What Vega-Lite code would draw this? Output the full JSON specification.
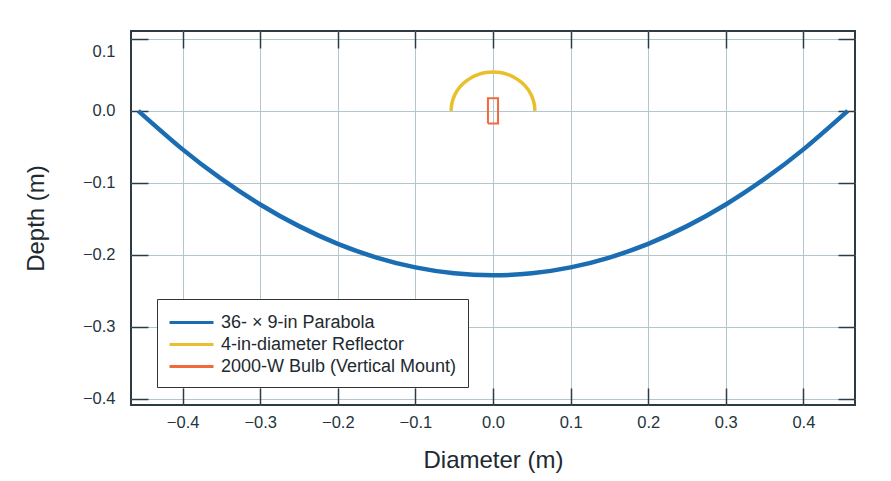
{
  "$schema": "https://vega.github.io/schema/vega-lite/v6.json",
  "width": 724,
  "height": 374,
  "autosize": "none",
  "padding": {"left": 131, "top": 31, "right": 36, "bottom": 76},
  "background": "#ffffff",
  "config": {
    "font": "Liberation Sans",
    "view": {"stroke": "#2d3c44", "strokeWidth": 2}
  },
  "datasets": {
    "parabola": [
      {"s": "36- × 9-in Parabola", "i": 0, "x": -0.4572, "y": 0},
      {"s": "36- × 9-in Parabola", "i": 1, "x": -0.4, "y": -0.0536},
      {"s": "36- × 9-in Parabola", "i": 2, "x": -0.35, "y": -0.0946},
      {"s": "36- × 9-in Parabola", "i": 3, "x": -0.3, "y": -0.1302},
      {"s": "36- × 9-in Parabola", "i": 4, "x": -0.25, "y": -0.1603},
      {"s": "36- × 9-in Parabola", "i": 5, "x": -0.2, "y": -0.1849},
      {"s": "36- × 9-in Parabola", "i": 6, "x": -0.15, "y": -0.204},
      {"s": "36- × 9-in Parabola", "i": 7, "x": -0.1, "y": -0.2177},
      {"s": "36- × 9-in Parabola", "i": 8, "x": -0.05, "y": -0.2259},
      {"s": "36- × 9-in Parabola", "i": 9, "x": 0, "y": -0.2286},
      {"s": "36- × 9-in Parabola", "i": 10, "x": 0.05, "y": -0.2259},
      {"s": "36- × 9-in Parabola", "i": 11, "x": 0.1, "y": -0.2177},
      {"s": "36- × 9-in Parabola", "i": 12, "x": 0.15, "y": -0.204},
      {"s": "36- × 9-in Parabola", "i": 13, "x": 0.2, "y": -0.1849},
      {"s": "36- × 9-in Parabola", "i": 14, "x": 0.25, "y": -0.1603},
      {"s": "36- × 9-in Parabola", "i": 15, "x": 0.3, "y": -0.1302},
      {"s": "36- × 9-in Parabola", "i": 16, "x": 0.35, "y": -0.0946},
      {"s": "36- × 9-in Parabola", "i": 17, "x": 0.4, "y": -0.0536},
      {"s": "36- × 9-in Parabola", "i": 18, "x": 0.4572, "y": 0}
    ],
    "reflector": [
      {"s": "4-in-diameter Reflector", "i": 0, "x": -0.054, "y": 0},
      {"s": "4-in-diameter Reflector", "i": 1, "x": -0.05318, "y": 0.00938},
      {"s": "4-in-diameter Reflector", "i": 2, "x": -0.05074, "y": 0.01847},
      {"s": "4-in-diameter Reflector", "i": 3, "x": -0.04677, "y": 0.027},
      {"s": "4-in-diameter Reflector", "i": 4, "x": -0.04137, "y": 0.03471},
      {"s": "4-in-diameter Reflector", "i": 5, "x": -0.03471, "y": 0.04137},
      {"s": "4-in-diameter Reflector", "i": 6, "x": -0.027, "y": 0.04677},
      {"s": "4-in-diameter Reflector", "i": 7, "x": -0.01847, "y": 0.05074},
      {"s": "4-in-diameter Reflector", "i": 8, "x": -0.00938, "y": 0.05318},
      {"s": "4-in-diameter Reflector", "i": 9, "x": 0, "y": 0.054},
      {"s": "4-in-diameter Reflector", "i": 10, "x": 0.00938, "y": 0.05318},
      {"s": "4-in-diameter Reflector", "i": 11, "x": 0.01847, "y": 0.05074},
      {"s": "4-in-diameter Reflector", "i": 12, "x": 0.027, "y": 0.04677},
      {"s": "4-in-diameter Reflector", "i": 13, "x": 0.03471, "y": 0.04137},
      {"s": "4-in-diameter Reflector", "i": 14, "x": 0.04137, "y": 0.03471},
      {"s": "4-in-diameter Reflector", "i": 15, "x": 0.04677, "y": 0.027},
      {"s": "4-in-diameter Reflector", "i": 16, "x": 0.05074, "y": 0.01847},
      {"s": "4-in-diameter Reflector", "i": 17, "x": 0.05318, "y": 0.00938},
      {"s": "4-in-diameter Reflector", "i": 18, "x": 0.054, "y": 0}
    ],
    "bulb": [
      {"s": "2000-W Bulb (Vertical Mount)", "i": 0, "x": -0.0065, "y": -0.0175},
      {"s": "2000-W Bulb (Vertical Mount)", "i": 1, "x": 0.0065, "y": -0.0175},
      {"s": "2000-W Bulb (Vertical Mount)", "i": 2, "x": 0.0065, "y": 0.0175},
      {"s": "2000-W Bulb (Vertical Mount)", "i": 3, "x": -0.0065, "y": 0.0175},
      {"s": "2000-W Bulb (Vertical Mount)", "i": 4, "x": -0.0065, "y": -0.0175}
    ]
  },
  "layer": [
    {
      "data": {"name": "parabola"},
      "mark": {"type": "line", "strokeCap": "butt", "strokeJoin": "round", "interpolate": "natural", "strokeWidth": 4.5},
      "encoding": {
        "x": {
          "field": "x", "type": "quantitative",
          "scale": {"domain": [-0.4665, 0.4665], "nice": false, "zero": false},
          "axis": {
            "orient": "bottom", "title": "Diameter (m)", "values": [-0.4, -0.3, -0.2, -0.1, 0, 0.1, 0.2, 0.3, 0.4],
            "format": ".1f", "domain": false, "grid": true, "gridColor": "#b3c6cf", "gridWidth": 1,
            "ticks": true, "tickSize": -17, "tickColor": "#2d3c44", "tickWidth": 1.5,
            "labelFontSize": 16.5, "labelColor": "#25343c", "labelPadding": 26,
            "titleFontSize": 24, "titleFontWeight": "normal", "titleColor": "#1e2a30", "titlePadding": 18
          }
        },
        "y": {
          "field": "y", "type": "quantitative",
          "scale": {"domain": [-0.409, 0.111], "nice": false, "zero": false},
          "axis": {
            "orient": "left", "title": "Depth (m)", "values": [-0.4, -0.3, -0.2, -0.1, 0, 0.1],
            "format": ".1f", "domain": false, "grid": true, "gridColor": "#b3c6cf", "gridWidth": 1,
            "ticks": true, "tickSize": -17, "tickColor": "#2d3c44", "tickWidth": 1.5,
            "labelFontSize": 16.5, "labelColor": "#25343c", "labelPadding": 33,
            "labelOffset": {"condition": {"test": "datum.value > 0.05", "value": 13}, "value": 0},
            "titleFontSize": 24, "titleFontWeight": "normal", "titleColor": "#1e2a30", "titlePadding": 34
          }
        },
        "order": {"field": "i", "type": "quantitative"},
        "color": {
          "field": "s", "type": "nominal",
          "scale": {
            "domain": ["36- × 9-in Parabola", "4-in-diameter Reflector", "2000-W Bulb (Vertical Mount)"],
            "range": ["#1a6db2", "#e9bf2c", "#f06a3c"]
          },
          "legend": {
            "title": null, "orient": "none", "legendX": 26, "legendY": 268,
            "fillColor": "#ffffff", "strokeColor": "#333333", "padding": 11,
            "symbolType": "M-1,0H3", "symbolSize": 484, "symbolStrokeWidth": 3,
            "labelFontSize": 18, "labelColor": "#1e2a30", "labelLimit": 500, "labelOffset": 28, "rowPadding": 0
          }
        }
      }
    },
    {
      "data": {"name": "bulb"},
      "mark": {"type": "line", "opacity": 0},
      "encoding": {
        "x": {
          "field": "x", "type": "quantitative",
          "axis": {
            "orient": "top", "title": null, "values": [-0.4, -0.3, -0.2, -0.1, 0, 0.1, 0.2, 0.3, 0.4],
            "labels": false, "domain": false, "grid": false,
            "tickSize": -17, "tickColor": "#2d3c44", "tickWidth": 1.5
          }
        },
        "y": {
          "field": "y", "type": "quantitative",
          "axis": {
            "orient": "right", "title": null, "values": [-0.4, -0.3, -0.2, -0.1, 0, 0.1],
            "labels": false, "domain": false, "grid": false,
            "tickSize": -17, "tickColor": "#2d3c44", "tickWidth": 1.5
          }
        },
        "order": {"field": "i", "type": "quantitative"}
      }
    },
    {
      "data": {"name": "reflector"},
      "mark": {"type": "line", "strokeCap": "butt", "interpolate": "cardinal", "strokeWidth": 3.5},
      "encoding": {
        "x": {"field": "x", "type": "quantitative", "axis": null},
        "y": {"field": "y", "type": "quantitative", "axis": null},
        "order": {"field": "i", "type": "quantitative"},
        "color": {"field": "s", "type": "nominal"}
      }
    },
    {
      "data": {"name": "bulb"},
      "mark": {"type": "line", "strokeJoin": "miter", "strokeWidth": 2},
      "encoding": {
        "x": {"field": "x", "type": "quantitative", "axis": null},
        "y": {"field": "y", "type": "quantitative", "axis": null},
        "order": {"field": "i", "type": "quantitative"},
        "color": {"field": "s", "type": "nominal"}
      }
    }
  ],
  "resolve": {"axis": {"x": "independent", "y": "independent"}}
}
